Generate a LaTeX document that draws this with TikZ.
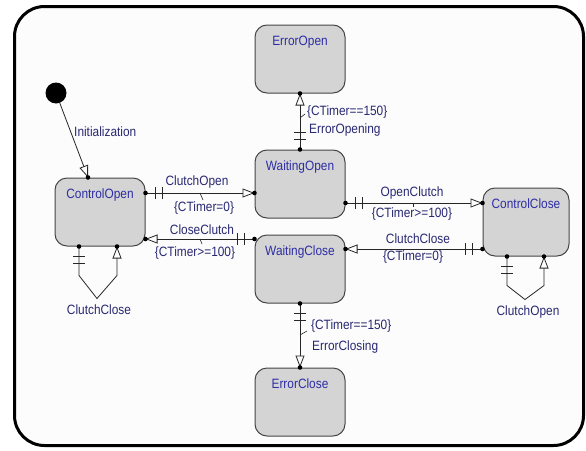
\documentclass[tikz,border=0pt]{standalone}
\usepackage{fontspec}
\setmainfont{Liberation Sans}[FakeStretch=0.88]
\usepackage{xcolor}
\usepackage{tikz}
\usetikzlibrary{arrows.meta}
\usetikzlibrary{decorations.markings}

\definecolor{statefill}{RGB}{212,212,212}
\definecolor{stateline}{RGB}{70,70,70}
\definecolor{statetext}{RGB}{45,45,165}
\definecolor{transtext}{RGB}{40,40,115}
\definecolor{framefill}{RGB}{252,252,252}
\newcommand\diagfont{\fontsize{13.5pt}{15pt}\selectfont}

\tikzset{
	state/.style={draw=stateline, fill=statefill, line width=1pt, rounded corners=12pt,
		minimum width=90pt, minimum height=68pt, inner sep=0pt,
		label={[anchor=north, yshift=-8pt, text=statetext, font=\diagfont]north:#1}},
	translabel/.style={text=transtext, inner sep=0pt, font=\diagfont},
	labeltick/.style={draw=black!85, line width=0.6pt},
	inittrans/.style={draw=black!85, line width=0.8pt,
		-{Triangle[open, length=12pt, width=9pt, line width=0.8pt]},
		postaction={decorate, decoration={markings,
			mark=at position 1 with {\fill[black] (0,0) circle (2.3pt);}}}},
	trans/.style={draw=black!85, line width=0.8pt,
		-{Triangle[open, length=12pt, width=9pt, line width=0.8pt]},
		postaction={decorate, decoration={markings,
			mark=at position 0 with {\fill[black] (0,0) circle (2.3pt);},
			mark=at position 10pt with {\draw[-, line width=0.8pt] (0,-6pt) -- (0,6pt);},
			mark=at position 17pt with {\draw[-, line width=0.8pt] (0,-6pt) -- (0,6pt);},
			mark=at position 1 with {\fill[black] (0,0) circle (2.3pt);}}}}
}

\begin{document}
\begin{tikzpicture}[x=1pt, y=-1pt]
	\useasboundingbox (0,0) rectangle (586,450);
	% frame
	\draw[line width=3pt, rounded corners=30pt, fill=framefill] (14.5,6.5) rectangle (583.5,445.5);

	% states
	\node[circle, fill=black, minimum size=21pt, inner sep=0pt] (init) at (56,93) {};
	\node[state=ControlOpen] (ctrlopen) at (100,212) {};
	\node[state=ErrorOpen] (erropen) at (300,59) {};
	\node[state=WaitingOpen] (waitopen) at (300,184) {};
	\node[state=WaitingClose] (waitclose) at (300,269) {};
	\node[state=ErrorClose] (errclose) at (300,402) {};
	\node[state=ControlClose, minimum width=86pt] (ctrlclose) at (526,222) {};

	% transitions
	\draw[inittrans] (init) -- ([xshift=-12pt]ctrlopen.north);
	\draw[trans] ([yshift=19pt]ctrlopen.east) -- ([yshift=-9pt]waitopen.west);
	\draw[trans] ([yshift=30pt]waitclose.west) -- ([yshift=-27pt]ctrlopen.east);
	\draw[trans] ([yshift=-19pt]waitopen.east) -- ([yshift=19pt]ctrlclose.west);
	\draw[trans] ([yshift=-27pt]ctrlclose.west) -- ([yshift=20pt]waitclose.east);
	\draw[trans] (waitopen.north) -- (erropen.south);
	\draw[trans] (waitclose.south) -- (errclose.north);
	\draw[trans] ([xshift=-21pt]ctrlopen.south) -- ++(0,29) -- ++(18,23) -- ++(20,-23) -- ([xshift=17pt]ctrlopen.south);
	\draw[trans] ([xshift=-19pt]ctrlclose.south) -- ++(0,29) -- ++(18,14) -- ++(19,-14) -- ([xshift=18pt]ctrlclose.south);

	% labels
	\node[translabel, anchor=west] (l-init) at (74,132) {Initialization};
	\node[translabel] (l-copen) at (197,182) {ClutchOpen};
	\node[translabel] (g-copen) at (204,208) {\{CTimer=0\}};
	\node[translabel] (l-cclutch) at (202,230) {CloseClutch};
	\node[translabel] (g-cclutch) at (195,253) {\{CTimer>=100\}};
	\node[translabel] (l-oclutch) at (412,193) {OpenClutch};
	\node[translabel] (g-oclutch) at (412,214) {\{CTimer>=100\}};
	\node[translabel] (l-cclose) at (418,239) {ClutchClose};
	\node[translabel] (g-cclose) at (413,257) {\{CTimer=0\}};
	\node[translabel, anchor=west] (g-erropen) at (307,112) {\{CTimer==150\}};
	\node[translabel, anchor=west] (l-erropen) at (309,130) {ErrorOpening};
	\node[translabel, anchor=west] (g-errclose) at (311,326) {\{CTimer==150\}};
	\node[translabel, anchor=west] (l-errclose) at (312,347) {ErrorClosing};
	\node[translabel] (l-loopopen) at (99,310) {ClutchClose};
	\node[translabel] (l-loopclose) at (528,312) {ClutchOpen};

	% label ticks
	\draw[labeltick] (200,193) -- (203,200);
	\draw[labeltick] (200,239) -- (202,244);
	\draw[labeltick] (413,203) -- (413,207);
	\draw[labeltick] (300,118) -- (305,114);
	\draw[labeltick] (300,335) -- (307,331);
\end{tikzpicture}
\end{document}
